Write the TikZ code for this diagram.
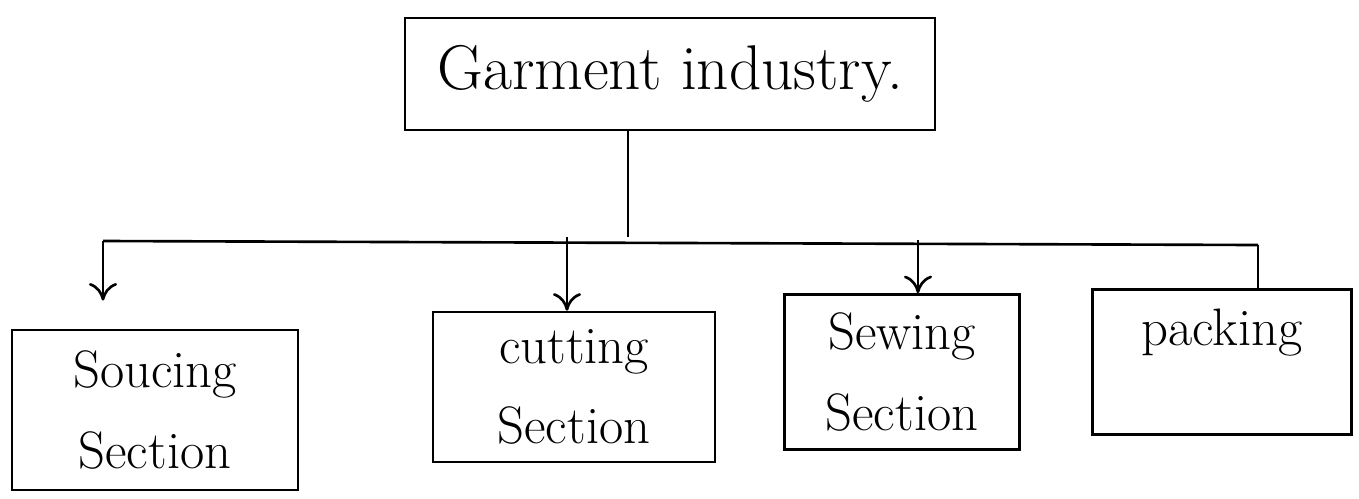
\documentclass[tikz,border=0pt]{standalone}
\usepackage{tikz}
\usetikzlibrary{arrows.meta}

\begin{document}
\begin{tikzpicture}[
                x = 0.02cm,
                y = -0.02cm,
                box/.style = {
                    draw,
                    line width = 1.5pt,
                    align = center,
                    inner sep = 0pt,
                    font = \fontsize{30}{46}\selectfont
                },
                link/.style = {
                    line width = 1.5pt
                },
                tip/.style = {
                    link,
                    -{To[length=10pt, width=16pt, line width=1.5pt]}
                }
            ]
            \useasboundingbox (0,0) rectangle (1359,498);
            % 
            \node[box, minimum width=10.6cm, minimum height=2.24cm,
                  font=\fontsize{36}{40}\selectfont] (top) at (670,74) {Garment industry.};
            % 
            \node[box, minimum width=5.72cm, minimum height=3.2cm] (src) at (155,410) {Soucing\\Section};
            \node[box, minimum width=5.64cm, minimum height=3.0cm] (cut) at (574,387) {cutting\\Section};
            \node[box, minimum width=4.7cm, minimum height=3.1cm] (sew) at (902,372) {Sewing\\Section};
            \node[box, minimum width=5.18cm, minimum height=2.9cm] (pack) at (1222,362) {packing\\[-20pt]\strut};
            % 
            \coordinate (j) at (628,237);
            \coordinate (bl) at (103,241);
            \coordinate (bc) at (567,237);
            \coordinate (bw) at (918,240);
            \coordinate (br) at (1258,245);
            % 
            \draw[link] (top.south -| j) -- (j);
            \draw[link] (bl) -- (br);
            % 
            \draw[tip, shorten >= 16pt] (bl) -- (src.north -| bl);
            \draw[tip] (bc) -- (cut.north -| bc);
            \draw[tip] (bw) -- (sew.north -| bw);
            \draw[link] (br) -- (pack.north -| br);
            % 
        \end{tikzpicture}
\end{document}
